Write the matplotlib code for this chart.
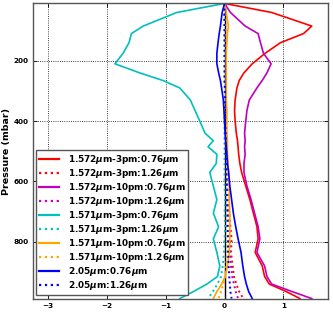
import matplotlib
matplotlib.use("Agg")
import matplotlib.pyplot as plt
import numpy as np

pressure = [10, 40, 85, 110, 140, 175, 210, 240, 265, 290, 330, 365, 400, 440, 465,
            485, 510, 540, 570, 615, 660, 705, 750, 790, 835, 880, 915, 940, 965, 988]

# values in units of 1e-10
r_3pm_076 = [0, 0.80, 1.48, 1.34, 0.95, 0.69, 0.47, 0.33, 0.25, 0.21, 0.18, 0.17, 0.18, 0.20, 0.22,
             0.23, 0.24, 0.26, 0.29, 0.36, 0.43, 0.49, 0.55, 0.57, 0.52, 0.64, 0.68, 0.76, 1.05, 1.28]
r_3pm_126 = [0, 0.0, 0.01, 0.01, 0.01, 0.01, 0.01, 0.01, 0.01, 0.01, 0.02, 0.02, 0.02, 0.02, 0.03,
             0.03, 0.03, 0.04, 0.04, 0.05, 0.06, 0.08, 0.10, 0.12, 0.11, 0.14, 0.16, 0.20, 0.25, 0.32]
m_10pm_076 = [0, 0.10, 0.35, 0.57, 0.61, 0.66, 0.79, 0.72, 0.64, 0.55, 0.42, 0.38, 0.36, 0.34, 0.35,
              0.34, 0.35, 0.33, 0.33, 0.38, 0.45, 0.51, 0.57, 0.60, 0.55, 0.68, 0.72, 0.80, 1.15, 1.48]
m_10pm_126 = [0, 0.0, 0.01, 0.01, 0.01, 0.01, 0.01, 0.01, 0.01, 0.01, 0.01, 0.02, 0.02, 0.02, 0.02,
              0.02, 0.03, 0.03, 0.03, 0.04, 0.05, 0.06, 0.08, 0.09, 0.09, 0.11, 0.13, 0.16, 0.19, 0.23]
c_3pm_076 = [0, -0.81, -1.38, -1.58, -1.62, -1.72, -1.86, -1.44, -1.05, -0.76, -0.58, -0.50, -0.42, -0.33, -0.19,
             -0.28, -0.13, -0.14, -0.25, -0.19, -0.13, -0.19, -0.10, -0.19, -0.13, -0.08, -0.12, -0.30, -0.53, -0.76]
c_3pm_126 = [0, 0.0, 0.0, 0.0, 0.0, 0.0, 0.0, 0.0, 0.0, 0.0, 0.0, 0.0, 0.0, 0.0, 0.0,
             0.0, 0.0, 0.0, 0.0, 0.0, 0.01, 0.0, 0.01, 0.0, -0.01, -0.03, -0.06, -0.12, -0.20, -0.28]
o_10pm_076 = [0, 0.03, 0.065, 0.05, 0.04, 0.03, 0.03, 0.03, 0.03, 0.03, 0.03, 0.04, 0.04, 0.04, 0.05,
              0.05, 0.05, 0.06, 0.07, 0.08, 0.08, 0.09, 0.09, 0.09, 0.08, 0.05, 0.01, -0.05, -0.13, -0.19]
o_10pm_126 = [0, 0.01, 0.02, 0.02, 0.02, 0.02, 0.02, 0.02, 0.02, 0.02, 0.02, 0.02, 0.03, 0.03, 0.03,
              0.03, 0.03, 0.04, 0.04, 0.05, 0.05, 0.05, 0.05, 0.05, 0.04, 0.03, 0.01, -0.02, -0.06, -0.10]
b_076 = [0, -0.04, -0.07, -0.09, -0.11, -0.13, -0.13, -0.10, -0.07, -0.05, -0.02, -0.01, 0.0, 0.01, 0.02,
         0.03, 0.04, 0.05, 0.07, 0.09, 0.12, 0.15, 0.19, 0.23, 0.28, 0.31, 0.34, 0.37, 0.41, 0.47]
b_126 = [0, 0.0, 0.0, 0.0, 0.0, 0.0, 0.0, 0.0, 0.0, 0.01, 0.01, 0.01, 0.01, 0.02, 0.02,
         0.02, 0.02, 0.03, 0.03, 0.04, 0.04, 0.05, 0.05, 0.06, 0.06, 0.07, 0.08, 0.09, 0.10, 0.12]

labels = [r"1.572$\mu$m-3pm:0.76$\mu$m", r"1.572$\mu$m-3pm:1.26$\mu$m",
          r"1.572$\mu$m-10pm:0.76$\mu$m", r"1.572$\mu$m-10pm:1.26$\mu$m",
          r"1.571$\mu$m-3pm:0.76$\mu$m", r"1.571$\mu$m-3pm:1.26$\mu$m",
          r"1.571$\mu$m-10pm:0.76$\mu$m", r"1.571$\mu$m-10pm:1.26$\mu$m",
          r"2.05$\mu$m:0.76$\mu$m", r"2.05$\mu$m:1.26$\mu$m"]
series = [r_3pm_076, r_3pm_126, m_10pm_076, m_10pm_126, c_3pm_076, c_3pm_126,
          o_10pm_076, o_10pm_126, b_076, b_126]
colors = ["#ff0000", "#ff0000", "#bf00bf", "#bf00bf", "#00bfbf", "#00bfbf",
          "#ffa500", "#ffa500", "#0000ff", "#0000ff"]
styles = ["-", ":", "-", ":", "-", ":", "-", ":", "-", ":"]

plt.rcParams['font.family'] = ['DejaVu Sans']
plt.rcParams['font.weight'] = 'bold'
plt.rcParams['mathtext.default'] = 'it'

fig = plt.figure(figsize=(3.33, 3.12), dpi=100)
ax = fig.add_axes([0.099, 0.043, 0.885, 0.946])

p = np.array(pressure)
for vals, col, ls, lab in zip(series, colors, styles, labels):
    ax.plot(np.array(vals) * 1e-10, p, color=col, ls=ls, lw=1.2 if ls == "-" else 1.4, label=lab)
ax.axvline(0, color="black", lw=1.0, zorder=1)

ax.set_xlim(-3.25e-10, 1.75e-10)
ax.set_ylim(988, 10)
ax.set_xticks([-3e-10, -2e-10, -1e-10, 0, 1e-10])
ax.set_yticks([200, 400, 600, 800])
ax.grid(True, color="black", ls=":", lw=0.6)
ax.tick_params(direction="in", top=True, right=True, labelsize=5.2, length=3, width=0.6, pad=3)
for lbl in ax.get_xticklabels() + ax.get_yticklabels():
    lbl.set_fontweight('bold')
ax.xaxis.get_offset_text().set_fontsize(5.2)
ax.xaxis.get_offset_text().set_fontweight('bold')
for s in ax.spines.values():
    s.set_color("#555555")
    s.set_linewidth(1.0)
ax.set_ylabel("Pressure (mbar)", fontsize=6.8, fontweight="bold", labelpad=2)

leg = ax.legend(loc="lower left", prop={"size": 6.4, "weight": "bold"}, fancybox=False,
                framealpha=1, edgecolor="#555555", handlelength=2.2, labelspacing=0.12,
                borderaxespad=0.35, borderpad=0.35, handletextpad=1.0)
leg.get_frame().set_linewidth(1.0)
for h in leg.get_lines():
    h.set_linewidth(1.6)

fig.savefig("out.png", dpi=100)
